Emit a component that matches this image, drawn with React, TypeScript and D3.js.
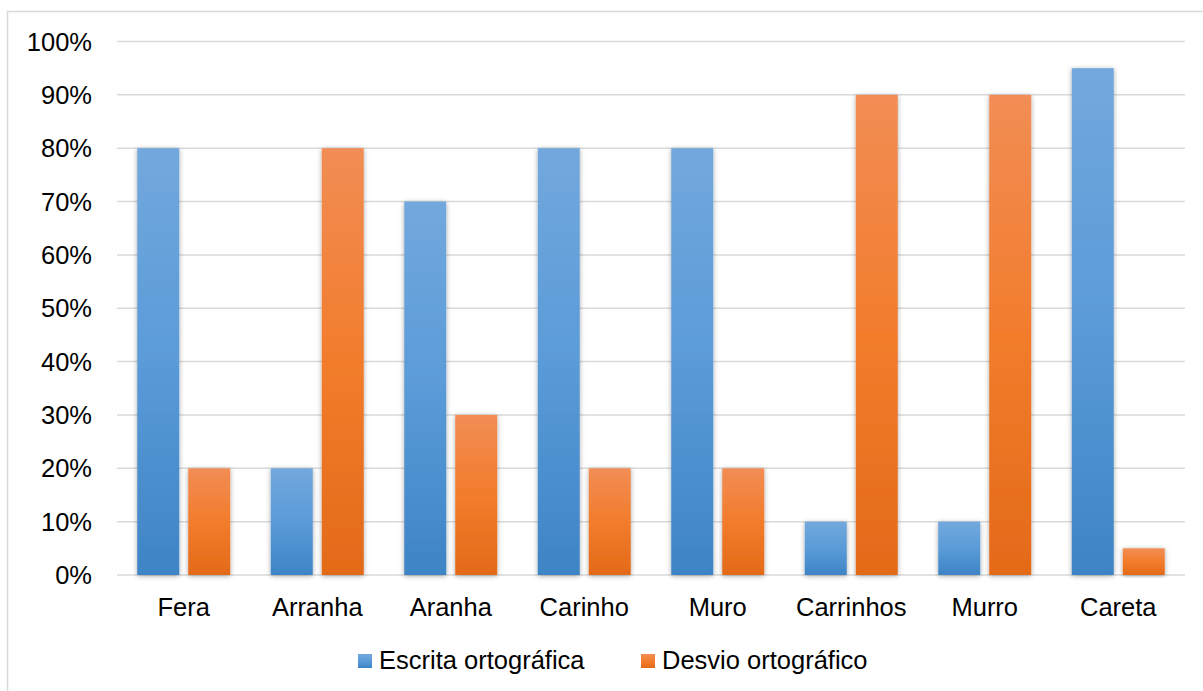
import React from "react";
import * as d3 from "d3";

const categories = ["Fera", "Arranha", "Aranha", "Carinho", "Muro", "Carrinhos", "Murro", "Careta"];
const seriesNames = ["Escrita ortográfica", "Desvio ortográfico"];
const escritaOrtografica = [0.8, 0.2, 0.7, 0.8, 0.8, 0.1, 0.1, 0.95];
const desvioOrtografico = [0.2, 0.8, 0.3, 0.2, 0.2, 0.9, 0.9, 0.05];
const yTicks = [0, 0.1, 0.2, 0.3, 0.4, 0.5, 0.6, 0.7, 0.8, 0.9, 1.0];

const W = 1203;
const H = 691;
const FONT = "'Liberation Sans', Arial, sans-serif";
const FS = 25.5;

const seriesValues = [escritaOrtografica, desvioOrtografico];
const gradIds = ["gradBlue", "gradOrange"];
const legendFill = ["url(#gradBlue)", "url(#gradOrange)"];

export default function App() {
  const plotLeft = 117;
  const plotRight = 1185;
  const plotTop = 41.5;
  const plotBottom = 575;

  const x0 = d3.scaleBand<string>().domain(categories).range([plotLeft, plotRight]).padding(0);
  const groupW = 93;
  const x1 = d3
    .scaleBand<string>()
    .domain(seriesNames)
    .range([0, groupW])
    .paddingInner(0.1765)
    .paddingOuter(0);
  const groupOffset = (x0.bandwidth() - groupW) / 2;
  const y = d3.scaleLinear().domain([0, 1]).range([plotBottom, plotTop]);
  const pct = d3.format(".0%");

  return (
    <svg
      width={W}
      height={H}
      style={{ position: "absolute", left: 0, top: 0, background: "#fff" }}
      fontFamily={FONT}
    >
      <defs>
        <linearGradient id="gradBlue" x1="0" y1="0" x2="0" y2="1">
          <stop offset="0" stopColor="#72a8dd" />
          <stop offset="0.5" stopColor="#5a9bd8" />
          <stop offset="1" stopColor="#3e84c5" />
        </linearGradient>
        <linearGradient id="gradOrange" x1="0" y1="0" x2="0" y2="1">
          <stop offset="0" stopColor="#f18d55" />
          <stop offset="0.5" stopColor="#f27c2c" />
          <stop offset="1" stopColor="#e36a18" />
        </linearGradient>
        <filter id="barShadow" x="-30%" y="-10%" width="160%" height="120%">
          <feDropShadow dx="0" dy="1" stdDeviation="2.5" floodColor="#000" floodOpacity="0.35" />
        </filter>
      </defs>

      {/* chart frame */}
      <rect x={7.5} y={11.5} width={W + 20} height={H + 20} fill="#fff" stroke="#d9d9d9" strokeWidth={1.5} />

      {/* gridlines */}
      {yTicks.map((t) => (
        <line
          key={t}
          x1={plotLeft}
          x2={plotRight}
          y1={y(t)}
          y2={y(t)}
          stroke="#d9d9d9"
          strokeWidth={1.5}
        />
      ))}

      {/* tick labels */}
      {yTicks.map((t) => (
        <text key={"l" + t} x={92} y={y(t) + 9} textAnchor="end" fontSize={FS} fill="#000">
          {pct(t)}
        </text>
      ))}

      {/* bars */}
      {categories.map((c, i) => (
        <g key={c} transform={`translate(${(x0(c) ?? 0) + groupOffset},0)`}>
          {seriesNames.map((s, k) => {
            const v = seriesValues[k][i];
            return (
              <rect
                key={s}
                x={x1(s)}
                y={y(v)}
                width={x1.bandwidth()}
                height={y(0) - y(v)}
                fill={`url(#${gradIds[k]})`}
                filter="url(#barShadow)"
              />
            );
          })}
        </g>
      ))}

      {/* category labels */}
      {categories.map((c) => (
        <text
          key={"c" + c}
          x={(x0(c) ?? 0) + x0.bandwidth() / 2}
          y={616}
          textAnchor="middle"
          fontSize={FS}
          fill="#000"
        >
          {c}
        </text>
      ))}

      {/* legend */}
      {seriesNames.map((s, k) => {
        const lx = [358, 641][k];
        return (
          <g key={"lg" + s}>
            <rect x={lx} y={654} width={14} height={14} fill={legendFill[k]} />
            <text x={lx + 21} y={668.5} fontSize={FS} fill="#000">
              {s}
            </text>
          </g>
        );
      })}
    </svg>
  );
}
